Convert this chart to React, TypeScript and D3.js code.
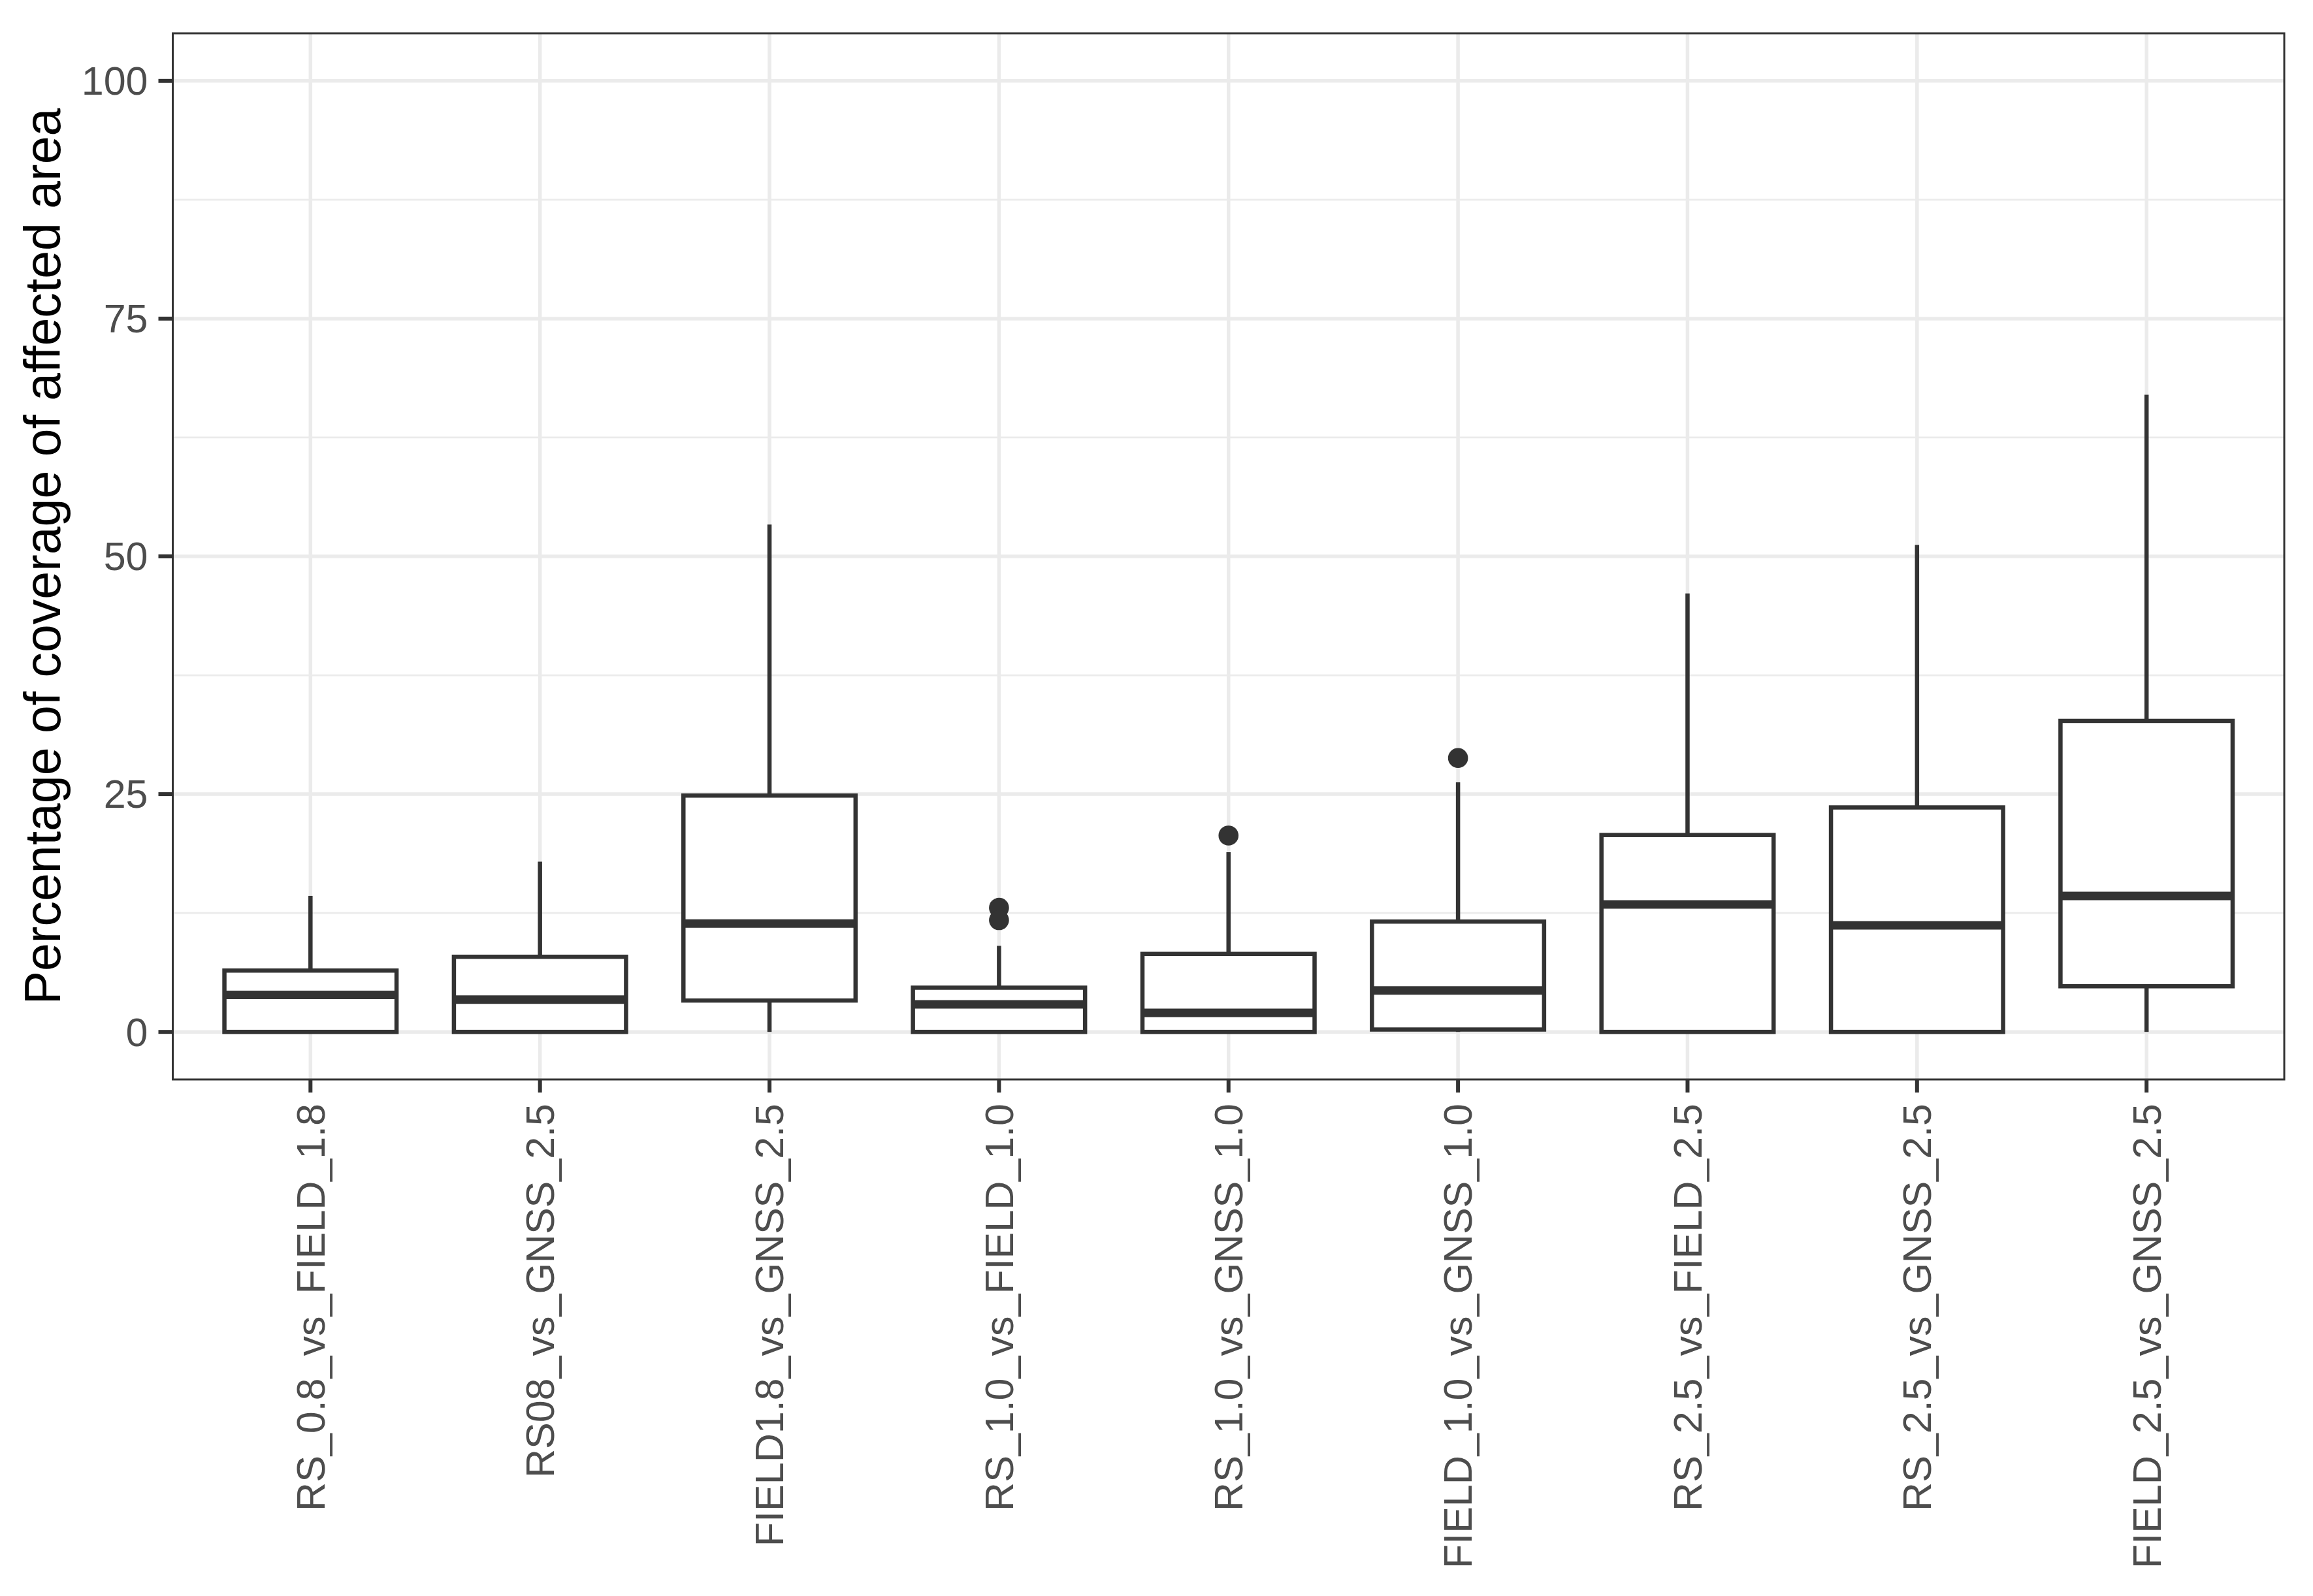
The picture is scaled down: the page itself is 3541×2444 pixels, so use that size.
import React from "react";
import * as d3 from "d3";

const categories = [
  "RS_0.8_vs_FIELD_1.8",
  "RS08_vs_GNSS_2.5",
  "FIELD1.8_vs_GNSS_2.5",
  "RS_1.0_vs_FIELD_1.0",
  "RS_1.0_vs_GNSS_1.0",
  "FIELD_1.0_vs_GNSS_1.0",
  "RS_2.5_vs_FIELD_2.5",
  "RS_2.5_vs_GNSS_2.5",
  "FIELD_2.5_vs_GNSS_2.5",
];
const whiskerLow = [0, 0, 0, 0, 0, 0, 0, 0, 0];
const q1 = [0, 0, 3.3, 0, 0, 0.25, 0, 0, 4.8];
const median = [3.9, 3.4, 11.4, 2.9, 2.0, 4.35, 13.4, 11.2, 14.3];
const q3 = [6.45, 7.9, 24.85, 4.65, 8.2, 11.6, 20.7, 23.6, 32.7];
const whiskerHigh = [14.3, 17.9, 53.35, 9.05, 18.9, 26.25, 46.1, 51.2, 67.0];
const outliers: number[][] = [[], [], [], [13.05, 11.75], [20.65], [28.8], [], [], []];
const yTicks = [0, 25, 50, 75, 100];
const yMinorTicks = [12.5, 37.5, 62.5, 87.5];
const yTitle = "Percentage of coverage of affected area";

const W = 3541;
const H = 2444;
const panel = { left: 264.5, right: 3497, top: 51, bottom: 1653 };
const ink = "#333333";
const textGrey = "#4d4d4d";
const grid = "#ebebeb";
const font = "Arial, 'Liberation Sans', Helvetica, sans-serif";

export default function App() {
  const x = d3
    .scalePoint<string>()
    .domain(categories)
    .range([panel.left, panel.right])
    .padding(0.6);
  const y = d3.scaleLinear().domain([-5, 105]).range([panel.bottom, panel.top]);
  const boxW = x.step() * 0.75;
  const lw = 6.5;

  return (
    <div style={{ position: "absolute", left: 0, top: 0 }}>
      <svg width={W} height={H} viewBox={`0 0 ${W} ${H}`} style={{ display: "block", background: "#fff" }}>
        <rect x={0} y={0} width={W} height={H} fill="#fff" />
        {/* minor grid */}
        {yMinorTicks.map((t) => (
          <line key={"mn" + t} x1={panel.left} x2={panel.right} y1={y(t)} y2={y(t)} stroke={grid} strokeWidth={2.75} />
        ))}
        {/* major grid */}
        {yTicks.map((t) => (
          <line key={"mj" + t} x1={panel.left} x2={panel.right} y1={y(t)} y2={y(t)} stroke={grid} strokeWidth={5.5} />
        ))}
        {categories.map((c) => (
          <line key={"vg" + c} x1={x(c)} x2={x(c)} y1={panel.top} y2={panel.bottom} stroke={grid} strokeWidth={5.5} />
        ))}
        {/* boxes */}
        {categories.map((c, i) => {
          const cx = x(c)!;
          return (
            <g key={"b" + c}>
              <line x1={cx} x2={cx} y1={y(q3[i])} y2={y(whiskerHigh[i])} stroke={ink} strokeWidth={lw} />
              <line x1={cx} x2={cx} y1={y(q1[i])} y2={y(whiskerLow[i])} stroke={ink} strokeWidth={lw} />
              <rect
                x={cx - boxW / 2}
                y={y(q3[i])}
                width={boxW}
                height={y(q1[i]) - y(q3[i])}
                fill="#fff"
                stroke={ink}
                strokeWidth={lw}
              />
              <line x1={cx - boxW / 2} x2={cx + boxW / 2} y1={y(median[i])} y2={y(median[i])} stroke={ink} strokeWidth={lw * 2} />
              {outliers[i].map((o, k) => (
                <circle key={k} cx={cx} cy={y(o)} r={15.3} fill={ink} />
              ))}
            </g>
          );
        })}
        {/* panel border */}
        <rect
          x={panel.left}
          y={panel.top}
          width={panel.right - panel.left}
          height={panel.bottom - panel.top}
          fill="none"
          stroke={ink}
          strokeWidth={3}
        />
        {/* y axis ticks and labels */}
        {yTicks.map((t) => (
          <g key={"yt" + t}>
            <line x1={panel.left - 22} x2={panel.left} y1={y(t)} y2={y(t)} stroke={ink} strokeWidth={6} />
            <text
              x={panel.left - 38}
              y={y(t)}
              dy="0.35em"
              textAnchor="end"
              fontFamily={font}
              fontSize={61}
              fill={textGrey}
            >
              {t}
            </text>
          </g>
        ))}
        {/* x axis ticks and labels */}
        {categories.map((c) => (
          <g key={"xt" + c}>
            <line x1={x(c)} x2={x(c)} y1={panel.bottom} y2={panel.bottom + 20} stroke={ink} strokeWidth={6} />
            <text
              transform={`translate(${x(c)}, ${panel.bottom + 37}) rotate(-90)`}
              dy="0.35em"
              textAnchor="end"
              fontFamily={font}
              fontSize={61}
              fill={textGrey}
            >
              {c}
            </text>
          </g>
        ))}
        {/* y title */}
        <text
          transform={`translate(92, ${(panel.top + panel.bottom) / 2}) rotate(-90)`}
          textAnchor="middle"
          fontFamily={font}
          fontSize={77}
          fill="#000"
        >
          {yTitle}
        </text>
      </svg>
    </div>
  );
}
